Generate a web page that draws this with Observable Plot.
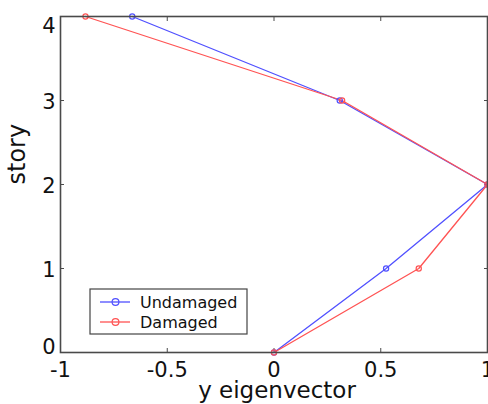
<!DOCTYPE html>
<html>
<head>
<meta charset="utf-8">
<script src="https://cdn.jsdelivr.net/npm/d3@7"></script>
<script src="https://cdn.jsdelivr.net/npm/@observablehq/plot@0.6"></script>
<style>
  html, body { margin: 0; padding: 0; background: #fff; overflow: hidden; }
  #chart { position: relative; width: 488px; height: 404px; }
</style>
</head>
<body>
<div id="chart"></div>
<script>
// Mode shape (y eigenvector) per story, before and after damage
const stories = [0, 1, 2, 3, 4];
const undamaged = [0, 0.525, 1.0, 0.308, -0.664];
const damaged = [0, 0.678, 1.0, 0.319, -0.883];
const seriesNames = ["Undamaged", "Damaged"];
const seriesColors = ["#5050ff", "#ff5353"];
const xTicks = [-1, -0.5, 0, 0.5, 1];
const yTicks = [0, 1, 2, 3, 4];

const rows = [
  ...stories.map((s, i) => ({series: seriesNames[0], story: s, v: undamaged[i]})),
  ...stories.map((s, i) => ({series: seriesNames[1], story: s, v: damaged[i]}))
];

const font = "DejaVu Sans, Arial, sans-serif";
const axisColor = "#4a4a4a";
const fmt = d => String(d);
const none = () => "";

const chart = Plot.plot({
  width: 488,
  height: 404,
  marginLeft: 60,
  marginRight: 1,
  marginTop: 16,
  marginBottom: 52,
  style: {fontFamily: font, background: "#fff", overflow: "visible"},
  x: {domain: [-1, 1]},
  y: {domain: [0, 4]},
  color: {domain: seriesNames, range: seriesColors},
  marks: [
    // inward ticks on all four sides
    Plot.axisX(xTicks, {anchor: "bottom", tickSize: -4, stroke: axisColor, tickFormat: none, label: null}),
    Plot.axisX(xTicks, {anchor: "top", tickSize: -4, stroke: axisColor, tickFormat: none, label: null}),
    Plot.axisY(yTicks, {anchor: "left", tickSize: -4, stroke: axisColor, tickFormat: none, label: null}),
    Plot.axisY(yTicks, {anchor: "right", tickSize: -4, stroke: axisColor, tickFormat: none, label: null}),
    // tick labels
    Plot.axisX(xTicks, {anchor: "bottom", tickSize: 0, tickPadding: 10, tickFormat: fmt, fontSize: 21, fill: "#111", label: null}),
    Plot.axisY([1, 2, 3], {anchor: "left", tickSize: 0, tickPadding: 5, tickFormat: fmt, fontSize: 21, fill: "#111", label: null, dy: 2}),
    Plot.axisY([4], {anchor: "left", tickSize: 0, tickPadding: 5, tickFormat: fmt, fontSize: 21, fill: "#111", label: null, dy: 10}),
    Plot.axisY([0], {anchor: "left", tickSize: 0, tickPadding: 5, tickFormat: fmt, fontSize: 21, fill: "#111", label: null, dy: -5}),
    // axis titles
    Plot.text(["y eigenvector"], {frameAnchor: "bottom", dy: 38, dx: 3, fontSize: 23, fill: "#111", lineAnchor: "middle"}),
    Plot.text(["story"], {frameAnchor: "left", dx: -43, rotate: -90, fontSize: 24, fill: "#111", lineAnchor: "middle"}),
    // the two mode shapes
    Plot.line(rows, {x: "v", y: "story", z: "series", stroke: "series", strokeWidth: 1.3, curve: "linear"}),
    Plot.dot(rows, {x: "v", y: "story", stroke: "series", r: 2.6, strokeWidth: 1.2, fill: "none"}),
    Plot.frame({stroke: axisColor, strokeWidth: 1.6})
  ]
});

document.getElementById("chart").appendChild(chart);

// legend box in the lower-left corner of the axes
const svg = d3.select(chart.tagName.toLowerCase() === "svg" ? chart : chart.querySelector("svg"));
const lg = svg.append("g")
  .attr("transform", "translate(90,289)")
  .attr("font-family", font)
  .attr("text-anchor", "start");
lg.append("rect").attr("width", 157).attr("height", 45).attr("fill", "#fff").attr("stroke", "#444").attr("stroke-width", 1.2);
seriesNames.forEach((name, i) => {
  const g = lg.append("g").attr("transform", `translate(0,${13 + i * 20})`);
  g.append("line").attr("x1", 10).attr("x2", 40).attr("y1", 0).attr("y2", 0)
    .attr("stroke", seriesColors[i]).attr("stroke-width", 1.3);
  g.append("circle").attr("cx", 25.5).attr("cy", 0).attr("r", 3.4)
    .attr("fill", "none").attr("stroke", seriesColors[i]).attr("stroke-width", 1.2);
  g.append("text").attr("x", 50).attr("y", 0).attr("dy", "0.36em")
    .attr("font-size", 16).attr("fill", "#111").text(name);
});
</script>
</body>
</html>
